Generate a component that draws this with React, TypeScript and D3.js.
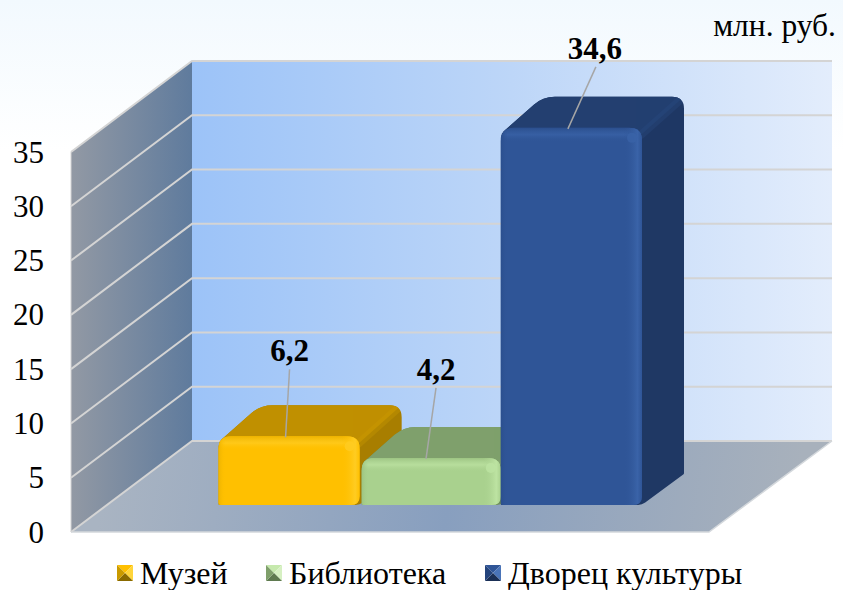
import React from 'react';
import * as d3 from 'd3';

const seriesNames = ['Музей', 'Библиотека', 'Дворец культуры'];
const seriesValues = [6.2, 4.2, 34.6];
const seriesLabels = ['6,2', '4,2', '34,6'];
const axisTicks = [0, 5, 10, 15, 20, 25, 30, 35];

const frontColors = ['#ffc000', '#a9d18e', '#2f5597'];
const lightColors = ['#ffcc22', '#bde3a2', '#3a63a8'];
const topColors = ['#c09000', '#7fa06c', '#233f70'];
const sideColors = ['#a87e00', '#6f8e5c', '#1f3864'];
const cornerColors = ['#cc9a00', '#86a872', '#2a4a82'];
const edgeColors = ['#eeb400', '#9cc482', '#2b4f8e'];
const legendShades = [
  ['#ffc000', '#ffd53a', '#8a6a00', '#c99a00'],
  ['#c6e9ad', '#d6f0c2', '#5f7a50', '#7f9f6b'],
  ['#2f5597', '#4a74b8', '#1b3056', '#24447c'],
];
const legendX = [117, 266, 485];
// leader line: offset of the label anchor from the point on the bar top
const leaderDx = [4, 10, 28];
const leaderDy = [-68, -71, -62];
const leaderAt = [0.475, 0.47, 0.475];

const W = 843;
const H = 590;
const wallFrontX = 71;
const wallBackX = 192;
const floorRightFrontX = 709;
const wallRightX = 832;
const baseY = 532;
const topY = 152;
const depthY = 91;
const barBaseY = 505;
const barLift = 1.5;
const barDepthX = 42;
const barDepthY = 31;

const y = d3.scaleLinear().domain([0, 35]).range([baseY, topY]);
const barH = d3.scaleLinear().domain([0, 35]).range([0, baseY - topY]);
const x = d3.scaleBand<string>().domain(seriesNames).range([218.5, 642]);

const poly = (pts: [number, number][]) => d3.line()(pts) + 'Z';

// polygon with rounded corners, r per corner
const roundPoly = (pts: [number, number][], rs: number[]) => {
  const n = pts.length;
  const p = d3.path();
  pts.forEach((c, i) => {
    const a = pts[(i + n - 1) % n];
    const b = pts[(i + 1) % n];
    const r = rs[i];
    const la = Math.hypot(a[0] - c[0], a[1] - c[1]);
    const lb = Math.hypot(b[0] - c[0], b[1] - c[1]);
    const s: [number, number] = [c[0] + ((a[0] - c[0]) * r) / la, c[1] + ((a[1] - c[1]) * r) / la];
    const e: [number, number] = [c[0] + ((b[0] - c[0]) * r) / lb, c[1] + ((b[1] - c[1]) * r) / lb];
    if (i === 0) p.moveTo(s[0], s[1]);
    else p.lineTo(s[0], s[1]);
    p.quadraticCurveTo(c[0], c[1], e[0], e[1]);
  });
  p.closePath();
  return p.toString();
};

const barTop = (i: number) => barBaseY - barH(seriesValues[i]) - barLift;

const Bar = ({ i }: { i: number }) => {
  const name = seriesNames[i];
  const x0 = x(name)! + (i === 1 ? 2 : 0);
  const x1 = x(name)! + x.bandwidth();
  const top = barTop(i);
  const dx = barDepthX;
  const dy = barDepthY;
  const frontPath = roundPoly(
    [[x0, top], [x1, top], [x1, barBaseY], [x0, barBaseY]],
    [13, 13, 9, 2],
  );
  // outline of top and side together, so the far corner rounds as one shape
  const shellPath = roundPoly(
    [
      [x0, top + 6],
      [x0 + dx, top - dy],
      [x1 + dx, top - dy],
      [x1 + dx, barBaseY - dy],
      [x1, barBaseY],
      [x0, barBaseY],
    ],
    [4, 12, 12, 1, 4, 1],
  );
  return (
    <g>
      <clipPath id={`shell-${i}`}>
        <path d={shellPath} />
      </clipPath>
      <path d={shellPath} fill={sideColors[i]} />
      <g clipPath={`url(#shell-${i})`}>
        <path
          d={poly([
            [x0 - 4, top + 6],
            [x0 + dx, top - dy - 2],
            [x1 + dx + 2, top - dy - 2],
            [x1 - 2, top + 8],
          ])}
          fill={topColors[i]}
        />
        <line
          x1={x1 - 2}
          y1={top + 8}
          x2={x1 + dx + 2}
          y2={top - dy - 2}
          stroke={cornerColors[i]}
          strokeWidth={8}
          opacity={0.35}
        />
      </g>
      <path d={frontPath} fill={frontColors[i]} />
      <clipPath id={`front-${i}`}>
        <path d={frontPath} />
      </clipPath>
      <g clipPath={`url(#front-${i})`}>
        <rect x={x0} y={top} width={x1 - x0} height={14} fill={`url(#bevelTop-${i})`} />
        <rect x={x0} y={top} width={7} height={barBaseY - top} fill={`url(#bevelLeft-${i})`} />
        <rect x={x1 - 18} y={top} width={18} height={barBaseY - top} fill={`url(#bevelRight-${i})`} />
        <ellipse cx={x1 - 10} cy={top + 10} rx={5} ry={5} fill={lightColors[i]} opacity={0.8} />
      </g>
    </g>
  );
};

const App = () => (
  <svg
    width={W}
    height={H}
    viewBox={`0 0 ${W} ${H}`}
    style={{ position: 'absolute', left: 0, top: 0, fontFamily: '"Liberation Serif", serif' }}
  >
    <defs>
      <linearGradient id="page" x1="0" y1="0" x2="0" y2="1">
        <stop offset="0" stopColor="#f2f9fe" />
        <stop offset="1" stopColor="#ffffff" />
      </linearGradient>
      <linearGradient id="backWall" x1="0" y1="0" x2="1" y2="0">
        <stop offset="0" stopColor="#9cc3f8" />
        <stop offset="0.5" stopColor="#bdd6f8" />
        <stop offset="1" stopColor="#e3edfc" />
      </linearGradient>
      <linearGradient id="sideWall" x1="0" y1="0" x2="1" y2="0">
        <stop offset="0" stopColor="#9299a4" />
        <stop offset="1" stopColor="#5f7b9d" />
      </linearGradient>
      <linearGradient id="floor" gradientUnits="userSpaceOnUse" x1="110" y1="440" x2="790" y2="540">
        <stop offset="0" stopColor="#a9b4c2" />
        <stop offset="0.5" stopColor="#889fbf" />
        <stop offset="1" stopColor="#a8b1bc" />
      </linearGradient>
      {seriesNames.map((_, i) => (
        <React.Fragment key={i}>
          <linearGradient id={`bevelTop-${i}`} x1="0" y1="0" x2="0" y2="1">
            <stop offset="0" stopColor={edgeColors[i]} />
            <stop offset="0.5" stopColor={lightColors[i]} stopOpacity={0.7} />
            <stop offset="1" stopColor={frontColors[i]} stopOpacity={0} />
          </linearGradient>
          <linearGradient id={`bevelLeft-${i}`} x1="0" y1="0" x2="1" y2="0">
            <stop offset="0" stopColor={edgeColors[i]} />
            <stop offset="1" stopColor={frontColors[i]} stopOpacity={0} />
          </linearGradient>
          <linearGradient id={`bevelRight-${i}`} x1="0" y1="0" x2="1" y2="0">
            <stop offset="0" stopColor={frontColors[i]} stopOpacity={0} />
            <stop offset="0.75" stopColor={lightColors[i]} />
            <stop offset="1" stopColor={frontColors[i]} />
          </linearGradient>
        </React.Fragment>
      ))}
    </defs>

    <rect width={W} height={H} fill="#ffffff" />
    <rect width={W} height={150} fill="url(#page)" />

    {/* walls and floor */}
    <path
      d={poly([
        [wallBackX, y(35) - depthY],
        [wallRightX, y(35) - depthY],
        [wallRightX, baseY - depthY],
        [wallBackX, baseY - depthY],
      ])}
      fill="url(#backWall)"
    />
    <path
      d={poly([
        [wallFrontX, y(35)],
        [wallBackX, y(35) - depthY],
        [wallBackX, baseY - depthY],
        [wallFrontX, baseY],
      ])}
      fill="url(#sideWall)"
    />
    <path
      d={poly([
        [wallFrontX, baseY],
        [wallBackX, baseY - depthY],
        [wallRightX, baseY - depthY],
        [floorRightFrontX, baseY],
      ])}
      fill="url(#floor)"
    />

    {/* gridlines */}
    {axisTicks.map((t) => (
      <path
        key={t}
        d={d3.line()([
          [wallFrontX, y(t)],
          [wallBackX, y(t) - depthY],
          [wallRightX, y(t) - depthY],
        ])!}
        fill="none"
        stroke="#d4d4d4"
        strokeWidth={2}
      />
    ))}
    <path
      d={d3.line()([
        [wallFrontX, baseY],
        [floorRightFrontX, baseY],
        [wallRightX, baseY - depthY],
      ])!}
      fill="none"
      stroke="#d4d8dc"
      strokeWidth={1.5}
    />
    <path d={d3.line()([[wallFrontX, y(35)], [wallFrontX, baseY]])!} stroke="#d4d4d4" strokeWidth={1} />

    {/* axis labels */}
    {axisTicks.map((t) => (
      <text key={t} x={44} y={y(t)} dy="0.34em" textAnchor="end" fontSize={31} fill="#000">
        {t}
      </text>
    ))}

    {seriesNames.map((_, i) => (
      <Bar key={i} i={i} />
    ))}

    {/* leader lines and data labels */}
    {seriesNames.map((name, i) => {
      const ax = x(name)! + x.bandwidth() * leaderAt[i];
      const ay = barTop(i) + 1;
      return (
        <g key={name}>
          <line
            x1={ax}
            y1={ay}
            x2={ax + leaderDx[i]}
            y2={ay + leaderDy[i]}
            stroke="#a6a6a6"
            strokeWidth={1.5}
          />
          <text
            x={ax + leaderDx[i] - (i === 2 ? 1 : 0)}
            y={ay + leaderDy[i] - 8}
            textAnchor="middle"
            fontSize={31}
            fontWeight="bold"
            fill="#000"
          >
            {seriesLabels[i]}
          </text>
        </g>
      );
    })}

    <text x={836} y={36} textAnchor="end" fontSize={31.5} fill="#000">
      млн. руб.
    </text>

    {/* legend */}
    {seriesNames.map((name, i) => {
      const lx = legendX[i];
      const ly = 565;
      const s = 16;
      const c: [number, number] = [lx + s / 2, ly + s / 2];
      const tl: [number, number] = [lx, ly];
      const tr: [number, number] = [lx + s, ly];
      const br: [number, number] = [lx + s, ly + s];
      const bl: [number, number] = [lx, ly + s];
      const shades = legendShades[i];
      return (
        <g key={name}>
          <path d={poly([tl, tr, c])} fill={shades[0]} />
          <path d={poly([tr, br, c])} fill={shades[1]} />
          <path d={poly([br, bl, c])} fill={shades[2]} />
          <path d={poly([bl, tl, c])} fill={shades[3]} />
          <text x={lx + 23} y={584} fontSize={32} fill="#000">
            {name}
          </text>
        </g>
      );
    })}
  </svg>
);

export default App;
